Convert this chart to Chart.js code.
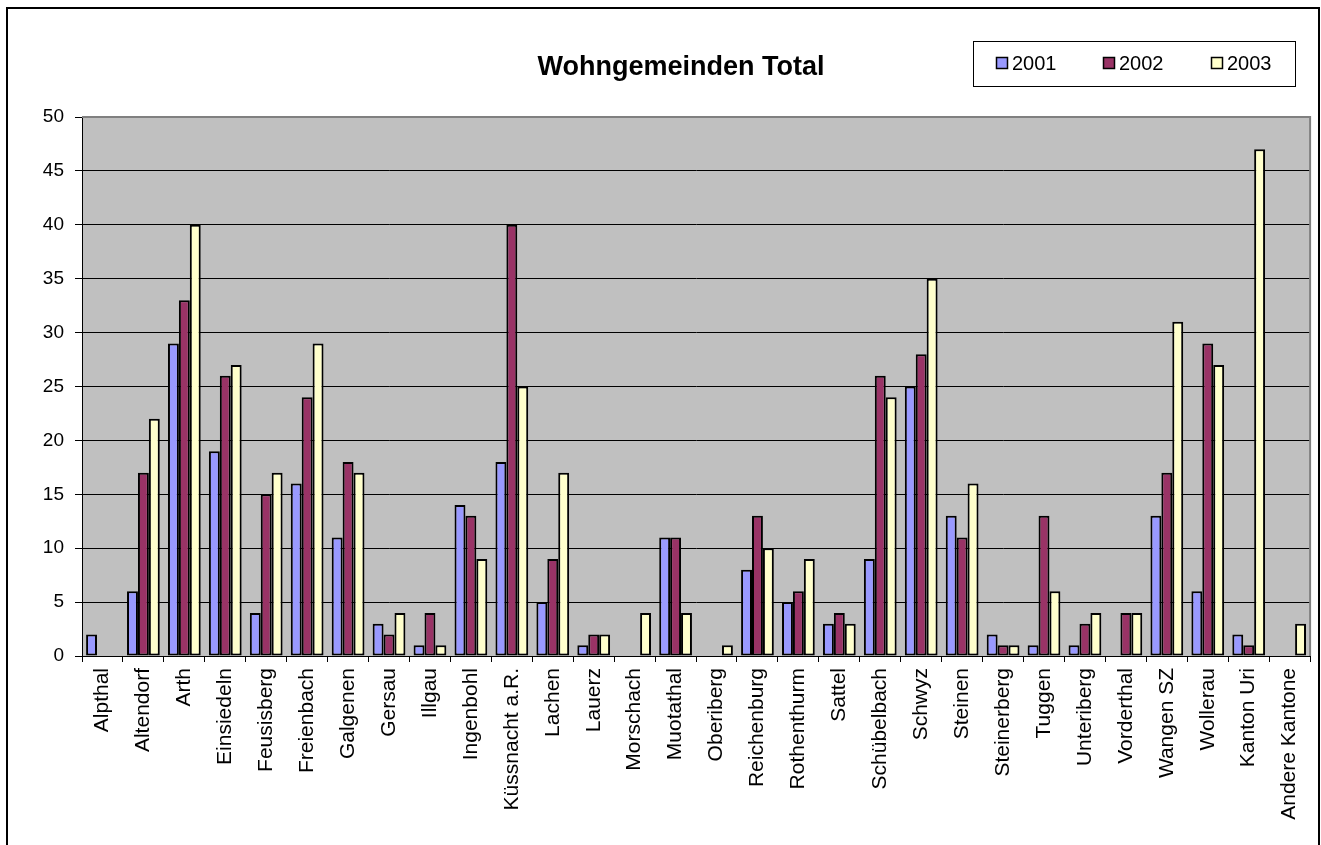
<!DOCTYPE html>
<html>
<head>
<meta charset="utf-8">
<script src="https://cdn.jsdelivr.net/npm/chart.js@4/dist/chart.umd.min.js"></script>
<style>
html,body{margin:0;padding:0;background:#fff;}
#wrap{position:relative;width:1321px;height:845px;}
</style>
</head>
<body>
<div id="wrap"><canvas id="c" width="1321" height="845"></canvas></div>
<script>
const title = "Wohngemeinden Total";
const categories = ["Alpthal","Altendorf","Arth","Einsiedeln","Feusisberg","Freienbach","Galgenen","Gersau","Illgau","Ingenbohl","Küssnacht a.R.","Lachen","Lauerz","Morschach","Muotathal","Oberiberg","Reichenburg","Rothenthurm","Sattel","Schübelbach","Schwyz","Steinen","Steinerberg","Tuggen","Unteriberg","Vorderthal","Wangen SZ","Wollerau","Kanton Uri","Andere Kantone"];
const seriesNames = ["2001","2002","2003"];
const values2001 = [2,6,29,19,4,16,11,3,1,14,18,5,1,0,11,0,8,5,3,9,25,13,2,1,1,0,13,6,2,0];
const values2002 = [0,17,33,26,15,24,18,2,4,13,40,9,2,0,11,0,13,6,4,26,28,11,1,13,3,4,17,29,1,0];
const values2003 = [0,22,40,27,17,29,17,4,1,9,25,17,2,4,4,1,10,9,3,24,35,16,1,6,4,4,31,27,47,3];
const yTicks = [0,5,10,15,20,25,30,35,40,45,50];
const colors = ["#9999FF","#993366","#FFFFCC"];

const FONT = "'Liberation Sans', Arial, sans-serif";

const decor = {
  id: 'decor',
  beforeDraw(chart) {
    const ctx = chart.ctx, a = chart.chartArea;
    ctx.save();
    ctx.fillStyle = '#fff';
    ctx.fillRect(0, 0, chart.width, chart.height);
    ctx.fillStyle = '#C0C0C0';
    ctx.fillRect(a.left, a.top, a.right - a.left, a.bottom - a.top);
    ctx.restore();
  },
  afterDatasetsDraw(chart) {
    const ctx = chart.ctx, a = chart.chartArea;
    ctx.save();
    ctx.strokeStyle = '#808080';
    ctx.lineWidth = 2;
    ctx.beginPath();
    ctx.moveTo(a.left, a.top);
    ctx.lineTo(a.right, a.top);
    ctx.lineTo(a.right, a.bottom);
    ctx.stroke();
    ctx.restore();
  },
  afterDraw(chart) {
    const ctx = chart.ctx;
    ctx.save();
    ctx.strokeStyle = '#000';
    ctx.lineWidth = 2;
    ctx.strokeRect(7, 8, 1312, 860);
    ctx.fillStyle = '#000';
    ctx.font = "bold 27px " + FONT;
    ctx.textAlign = 'center';
    ctx.textBaseline = 'alphabetic';
    ctx.fillText(title, 681, 75);
    ctx.fillStyle = '#fff';
    ctx.fillRect(973, 41, 322, 45);
    ctx.strokeStyle = '#000';
    ctx.lineWidth = 1;
    ctx.strokeRect(973.5, 41.5, 322, 45);
    const xs = [996, 1103, 1211];
    ctx.font = "20px " + FONT;
    ctx.textAlign = 'left';
    ctx.textBaseline = 'middle';
    chart.data.datasets.forEach((ds, i) => {
      ctx.fillStyle = ds.backgroundColor;
      ctx.fillRect(xs[i], 57, 12, 12);
      ctx.strokeStyle = '#000';
      ctx.lineWidth = 1.5;
      ctx.strokeRect(xs[i] + 0.5, 57.5, 11, 11);
      ctx.fillStyle = '#000';
      ctx.fillText(ds.label, xs[i] + 16, 64);
    });
    ctx.restore();
  }
};

const datasets = [values2001, values2002, values2003].map((v, i) => ({
  label: seriesNames[i],
  data: v,
  backgroundColor: colors[i],
  borderColor: '#000',
  borderWidth: 2,
  borderSkipped: false,
  categoryPercentage: 0.8,
  barPercentage: 1.0
}));

new Chart(document.getElementById('c'), {
  type: 'bar',
  data: { labels: categories, datasets },
  plugins: [decor],
  options: {
    responsive: false,
    animation: false,
    devicePixelRatio: 1,
    layout: { padding: { left: 0, top: 117, right: 10, bottom: 0 } },
    plugins: {
      legend: { display: false },
      title: { display: false },
      tooltip: { enabled: false }
    },
    scales: {
      x: {
        offset: true,
        grid: {
          offset: true,
          drawOnChartArea: false,
          drawTicks: true,
          tickLength: 6,
          color: '#000',
          lineWidth: 1
        },
        border: { display: true, color: '#000', width: 1 },
        ticks: {
          minRotation: 90,
          maxRotation: 90,
          autoSkip: false,
          padding: 6,
          color: '#000',
          font: { family: FONT, size: 21 }
        },
        afterFit(s) { s.height = 845 - 656; }
      },
      y: {
        min: 0,
        max: 50,
        afterBuildTicks(s) { s.ticks = yTicks.map(v => ({ value: v })); },
        grid: {
          drawOnChartArea: true,
          drawTicks: true,
          tickLength: 7,
          color: '#000',
          lineWidth: 1
        },
        border: { display: true, color: '#000', width: 1 },
        ticks: {
          padding: 11,
          color: '#000',
          font: { family: FONT, size: 19 }
        },
        afterFit(s) { s.width = 82; }
      }
    }
  }
});
</script>
</body>
</html>
